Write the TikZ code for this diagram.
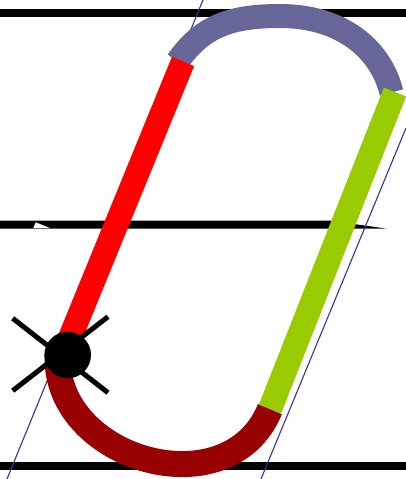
\documentclass[tikz,border=0pt]{standalone}
\definecolor{arcTop}{HTML}{666699}
\definecolor{arcBottom}{HTML}{990000}
\definecolor{stemRight}{HTML}{99CC00}
\definecolor{slantBlue}{HTML}{333399}
\begin{document}
\begin{tikzpicture}[x=1pt, y=-1pt,
  ruleline/.style={line width=7.4pt},
  slant/.style={slantBlue, line width=1.1pt},
  penstroke/.style={line width=24pt}]
\useasboundingbox (0,0) rectangle (406,479);
\clip (0,0) rectangle (406,479);
% writing lines
\draw[ruleline] (0,13) -- (406,13);
\fill (0,220.6) -- (330,220.6) -- (387,228.7) -- (0,228.7) -- cycle;
\fill[white] (35.7,222.3) -- (33.3,228.1) -- (50,228.1) -- cycle;
\draw[ruleline] (0,465.8) -- (406,465.8);
% slant guides
\draw[slant] (7,479) -- (203,0);
\draw[slant] (261,479) -- (406,128);
% letter strokes
\coordinate (leftTop) at (183,61.5);
\coordinate (leftBot) at (63,355);
\coordinate (rightTop) at (395,92);
\coordinate (rightBot) at (270,409);
\coordinate (arcPeak) at (280,16);
\draw[penstroke, arcTop] (177.5,61.5) .. controls (202,26.5) and (230,16) .. (arcPeak)
  .. controls (340,16) and (380.2,47.5) .. (391.5,92.5);
\draw[penstroke, arcBottom, line width=26pt] (58,350) .. controls (48,458) and (228,512) .. (rightBot);
\draw[penstroke, red] (leftTop) -- (leftBot);
\draw[penstroke, stemRight] (rightTop) -- (rightBot);
% start mark
\draw[line width=5pt] (12.7,318.3) -- (108,392.7);
\draw[line width=5pt] (12.7,390.7) -- (108,316.7);
\fill (67.7,355) circle (23.3pt);
\end{tikzpicture}
\end{document}
